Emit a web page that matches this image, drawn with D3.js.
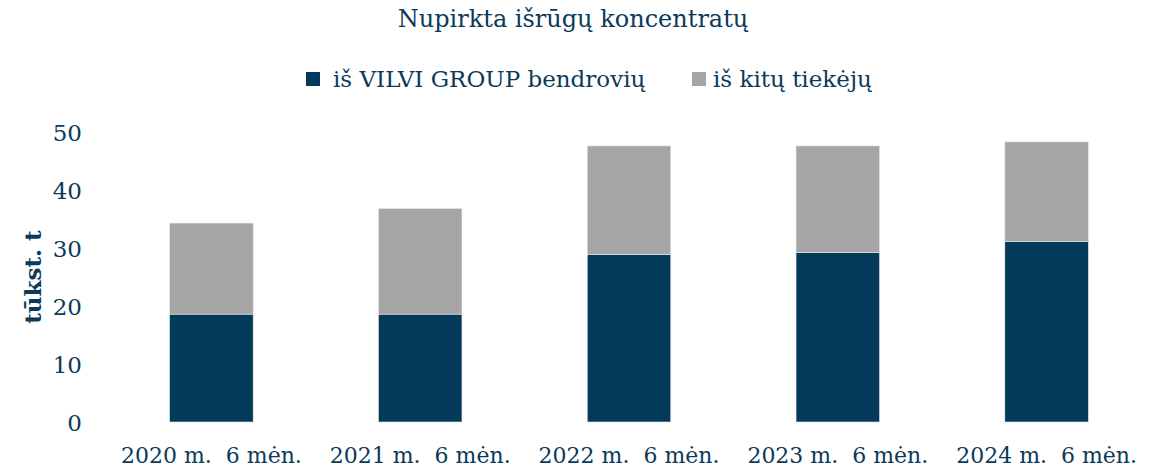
<!DOCTYPE html>
<html>
<head>
<meta charset="utf-8">
<script src="https://cdn.jsdelivr.net/npm/d3@7"></script>
<style>
  body { margin: 0; background: #fff; }
  text { font-family: "DejaVu Serif", serif; fill: #0b3a5a; white-space: pre; }
</style>
</head>
<body>
<div class="chart"></div>
<script>
// Chart data
var categories = ["2020 m.  6 mėn.", "2021 m.  6 mėn.", "2022 m.  6 mėn.", "2023 m.  6 mėn.", "2024 m.  6 mėn."];
var seriesNames = ["iš VILVI GROUP bendrovių", "iš kitų tiekėjų"];
var groupValues = [18.6, 18.6, 28.9, 29.2, 31.1];
var otherValues = [15.7, 18.2, 18.7, 18.4, 17.2];
var yTicks = [0, 10, 20, 30, 40, 50];

var svgWidth = 1163;
var svgHeight = 468;
var colors = ["#03395a", "#a5a5a5"];
var fontSize = "23px";

var margin = { top: 132, right: 12, bottom: 46, left: 107 };
var width = svgWidth - margin.left - margin.right;
var height = svgHeight - margin.top - margin.bottom;

var svg = d3.select(".chart")
  .append("svg")
  .attr("width", svgWidth)
  .attr("height", svgHeight);

var chartGroup = svg.append("g")
  .attr("transform", `translate(${margin.left}, ${margin.top})`);

// Build stacked table
var table = categories.map((c, i) => ({ cat: c, group: groupValues[i], other: otherValues[i] }));
var stacked = d3.stack().keys(["group", "other"])(table);

var xScale = d3.scaleBand().domain(categories).range([0, width]).paddingInner(0.6).paddingOuter(0.3);
var yScale = d3.scaleLinear().domain([0, 50]).range([height, 0]);

// Bars
chartGroup.selectAll("g.layer")
  .data(stacked)
  .enter()
  .append("g")
  .attr("class", "layer")
  .attr("fill", (d, i) => colors[i])
  .selectAll("rect")
  .data(d => d)
  .enter()
  .append("rect")
  .attr("x", d => xScale(d.data.cat))
  .attr("y", d => yScale(d[1]))
  .attr("width", xScale.bandwidth())
  .attr("height", d => yScale(d[0]) - yScale(d[1]))
  .attr("stroke", "#e8e8e8")
  .attr("stroke-width", 0.6);

// Axes
var yAxis = d3.axisLeft(yScale).tickValues(yTicks).tickSize(0).tickPadding(0);
var yG = chartGroup.append("g").attr("transform", "translate(-25, 0)").call(yAxis);
yG.select(".domain").remove();
yG.selectAll("text").style("font-size", fontSize).style("font-family", "DejaVu Serif").attr("fill", "#0b3a5a").attr("dy", "0.35em");

var xAxis = d3.axisBottom(xScale).tickSize(0).tickPadding(0);
var xG = chartGroup.append("g").attr("transform", `translate(0, ${height})`).call(xAxis);
xG.select(".domain").remove();
xG.selectAll("text").style("font-size", "22px").style("font-family", "DejaVu Serif").attr("fill", "#0b3a5a").attr("dy", "0").attr("y", 41);

// Title
svg.append("text")
  .attr("x", 573)
  .attr("y", 27)
  .attr("text-anchor", "middle")
  .style("font-size", "24px")
  .text("Nupirkta išrūgų koncentratų");

// Legend
var legendX = [306, 692];
var legendTextX = [333, 713];
seriesNames.forEach((name, i) => {
  svg.append("rect")
    .attr("x", legendX[i])
    .attr("y", 72)
    .attr("width", 14)
    .attr("height", 14)
    .attr("fill", colors[i]);
  svg.append("text")
    .attr("x", legendTextX[i])
    .attr("y", 87)
    .style("font-size", fontSize)
    .text(name);
});

// Y label
svg.append("text")
  .attr("transform", "translate(41, 277) rotate(-90)")
  .attr("text-anchor", "middle")
  .style("font-size", fontSize)
  .style("font-weight", "bold")
  .text("tūkst. t");
</script>
</body>
</html>
